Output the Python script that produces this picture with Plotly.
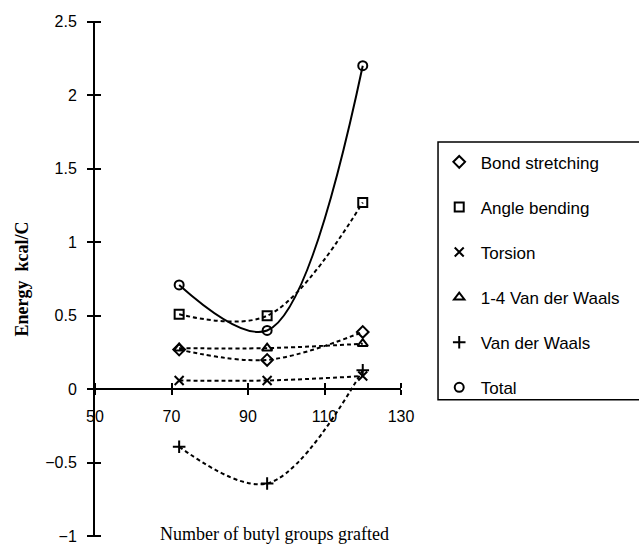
import plotly.graph_objects as go

# Number of butyl groups grafted
butyl_groups = [72, 95, 120]

# Energy components (kcal/C)
bond_stretching = [0.27, 0.20, 0.39]
angle_bending = [0.51, 0.50, 1.27]
torsion = [0.06, 0.06, 0.09]
vdw_14 = [0.28, 0.28, 0.31]
vdw = [-0.39, -0.64, 0.13]
total = [0.71, 0.40, 2.20]

series = [
    ("Bond stretching", bond_stretching, "diamond-open", "dash"),
    ("Angle bending", angle_bending, "square-open", "dash"),
    ("Torsion", torsion, "x-thin-open", "dash"),
    ("1-4 Van der Waals", vdw_14, "triangle-up-open", "dash"),
    ("Van der Waals", vdw, "cross-thin-open", "dash"),
    ("Total", total, "circle-open", "solid"),
]

x_ticks = [50, 70, 90, 110, 130]
y_ticks = [-1, -0.5, 0, 0.5, 1, 1.5, 2, 2.5]
x_range = [50, 130]
y_range = [-1.004, 2.504]

fig = go.Figure()

for name, values, symbol, dash in series:
    # smooth connecting curve
    fig.add_trace(go.Scatter(
        x=butyl_groups, y=values, mode="lines",
        line=dict(color="black", width=2, shape="spline", smoothing=1,
                  dash="4px,3px" if dash == "dash" else "solid"),
        showlegend=False, hoverinfo="skip",
    ))
    # data markers (also used for the legend key)
    fig.add_trace(go.Scatter(
        x=butyl_groups, y=values, mode="markers", name=name,
        legendgroup=name,
        marker=dict(symbol=symbol, size=9, color="black",
                    line=dict(color="black", width=2)),
    ))

x_pos = (0 - y_range[0]) / (y_range[1] - y_range[0])  # horizontal axis at y = 0

tick_font = dict(family="Liberation Sans, Arial, sans-serif", size=16, color="black")

# inward half of each crossing tick mark, drawn as minor ticks
eps = 1e-6
x_minor = dict(tickvals=[v + eps for v in x_ticks], ticks="inside", ticklen=5,
               tickwidth=1.5, tickcolor="black", showgrid=False)
y_minor = dict(tickvals=[v + eps for v in y_ticks], ticks="inside", ticklen=6,
               tickwidth=1.5, tickcolor="black", showgrid=False)

fig.update_layout(
    width=639, height=544,
    margin=dict(l=95, r=238, t=21, b=7, autoexpand=False),
    paper_bgcolor="white", plot_bgcolor="white",
    font=dict(family="Liberation Sans, Arial, sans-serif", color="black"),
    xaxis=dict(
        range=x_range, domain=[0, 1], anchor="free", position=x_pos,
        tickvals=x_ticks, ticks="outside", ticklen=5, tickwidth=1.5,
        tickcolor="black", showline=True, linecolor="black", linewidth=2,
        showgrid=False, zeroline=False, tickfont=tick_font,
        ticklabelstandoff=7, minor=x_minor, automargin=False,
    ),
    yaxis=dict(
        range=y_range, tickvals=y_ticks, ticks="outside", ticklen=6,
        tickwidth=1.5, tickcolor="black", showline=True, linecolor="black",
        linewidth=2, showgrid=False, zeroline=False, tickfont=tick_font,
        ticklabelstandoff=7, ticklabeloverflow="allow", minor=y_minor,
        automargin=False,
        title=dict(text="<b>Energy  kcal/C</b>", standoff=12,
                   font=dict(family="Liberation Serif, Times New Roman, serif",
                             size=18, color="black")),
    ),
    legend=dict(
        x=1.12, y=0.761, xanchor="left", yanchor="top",
        borderwidth=0, bgcolor="rgba(0,0,0,0)",
        font=dict(family="Liberation Sans, Arial, sans-serif", size=17, color="black"),
        tracegroupgap=20, itemwidth=33,
    ),
    shapes=[dict(
        # legend frame, running past the right edge of the page
        type="rect", xref="paper", yref="paper",
        x0=1.121, x1=2.0, y0=0.266, y1=0.7655,
        line=dict(color="black", width=1.5), fillcolor="rgba(0,0,0,0)",
        layer="below",
    )],
    annotations=[dict(
        text="Number of butyl groups grafted", xref="paper", yref="paper",
        x=0.585, y=0.006, xanchor="center", yanchor="middle", showarrow=False,
        font=dict(family="Liberation Serif, Times New Roman, serif", size=18, color="black"),
    )],
)

fig.write_html("out.html")
